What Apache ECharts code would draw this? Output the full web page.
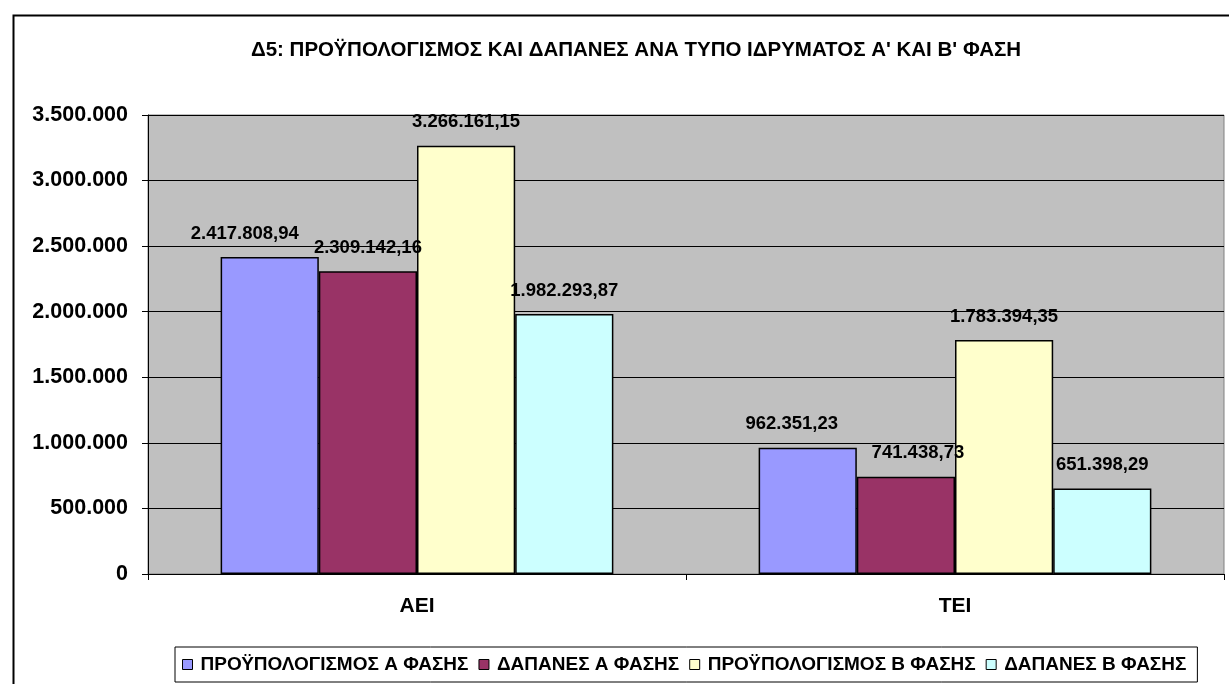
<!DOCTYPE html>
<html>
<head>
<meta charset="utf-8">
<script src="https://cdn.jsdelivr.net/npm/echarts@6/dist/echarts.min.js"></script>
<style>
  html, body { margin: 0; padding: 0; background: #fff; }
  #chart { width: 1229px; height: 684px; }
</style>
</head>
<body>
<div id="chart"></div>
<script>
// δεδομένα
var titleText = "Δ5: ΠΡΟΫΠΟΛΟΓΙΣΜΟΣ ΚΑΙ ΔΑΠΑΝΕΣ ΑΝΑ ΤΥΠΟ ΙΔΡΥΜΑΤΟΣ Α' ΚΑΙ Β' ΦΑΣΗ";
var categories = ["ΑΕΙ", "ΤΕΙ"];
var seriesNames = ["ΠΡΟΫΠΟΛΟΓΙΣΜΟΣ Α ΦΑΣΗΣ", "ΔΑΠΑΝΕΣ Α ΦΑΣΗΣ", "ΠΡΟΫΠΟΛΟΓΙΣΜΟΣ Β ΦΑΣΗΣ", "ΔΑΠΑΝΕΣ Β ΦΑΣΗΣ"];
var budgetA = [2417808.94, 962351.23];
var spendA = [2309142.16, 741438.73];
var budgetB = [3266161.15, 1783394.35];
var spendB = [1982293.87, 651398.29];
var yTicks = [0, 500000, 1000000, 1500000, 2000000, 2500000, 3000000, 3500000];

var colors = ['#9999FF', '#993366', '#FFFFCC', '#CCFFFF'];
var font = '"Liberation Sans", Arial, sans-serif';

// ελληνική μορφή αριθμών: 1.234.567,89
function grNumber(v, decimals) {
    var parts = v.toFixed(decimals).split('.');
    var intPart = parts[0].replace(/\B(?=(\d{3})+(?!\d))/g, '.');
    return parts.length > 1 ? intPart + ',' + parts[1] : intPart;
}

// μετατόπιση ετικετών όπως στο πρωτότυπο (μετακινημένες με το χέρι)
var labelNudge = [[-25, -16], [0, 12], [0, 0], [0, 0]];

var allValues = [budgetA, spendA, budgetB, spendB];
var series = allValues.map(function (vals, i) {
    return {
        name: seriesNames[i],
        type: 'bar',
        barGap: '0%',
        barCategoryGap: '27%',
        itemStyle: { color: colors[i], borderColor: '#000', borderWidth: 1.5 },
        label: {
            show: true,
            position: 'top',
            distance: 14,
            color: '#000',
            fontFamily: font,
            fontWeight: 'bold',
            fontSize: 18.5,
            formatter: function (p) { return grNumber(p.value, 2); }
        },
        data: vals.map(function (v, j) {
            return { value: v, label: { offset: [labelNudge[i][j], 0] } };
        })
    };
});

var myChart = echarts.init(document.getElementById('chart'));
myChart.setOption({
    backgroundColor: '#fff',
    animation: false,
    color: colors,
    title: {
        text: titleText,
        left: 631,
        textAlign: 'center',
        top: 35,
        textStyle: { fontFamily: font, fontWeight: 'bold', fontSize: 20.5, color: '#000' }
    },
    graphic: [{
        type: 'rect',
        left: 11, top: 13,
        shape: { width: 1300, height: 700 },
        style: { fill: null, stroke: '#000', lineWidth: 2 },
        silent: true
    }],
    legend: {
        left: 175,
        top: 647,
        padding: [8, 11, 8, 7],
        itemWidth: 10,
        itemHeight: 10,
        itemGap: 10,
        borderColor: '#000',
        borderWidth: 1,
        backgroundColor: '#fff',
        icon: 'rect',
        itemStyle: { borderColor: '#000', borderWidth: 1 },
        textStyle: { fontFamily: font, fontWeight: 'bold', fontSize: 19, color: '#000', padding: [0, 0, 0, 3] },
        data: seriesNames
    },
    grid: {
        left: 148, right: 5, top: 115, bottom: 110,
        show: true,
        backgroundColor: '#C0C0C0',
        borderColor: '#808080',
        borderWidth: 1
    },
    xAxis: {
        type: 'category',
        data: categories,
        axisLine: { lineStyle: { color: '#000', width: 1 } },
        axisTick: { show: true, length: 6, lineStyle: { color: '#000' } },
        axisLabel: { margin: 22, color: '#000', fontFamily: font, fontWeight: 'bold', fontSize: 21 }
    },
    yAxis: {
        type: 'value',
        min: yTicks[0],
        max: yTicks[yTicks.length - 1],
        interval: yTicks[1] - yTicks[0],
        axisLine: { show: true, lineStyle: { color: '#000', width: 1 } },
        axisTick: { show: true, length: 6, lineStyle: { color: '#000' } },
        splitLine: { lineStyle: { color: '#000', width: 1 } },
        axisLabel: {
            margin: 20,
            color: '#000',
            fontFamily: font,
            fontWeight: 'bold',
            fontSize: 21.5,
            formatter: function (v) { return grNumber(v, 0); }
        }
    },
    series: series
});
</script>
</body>
</html>
